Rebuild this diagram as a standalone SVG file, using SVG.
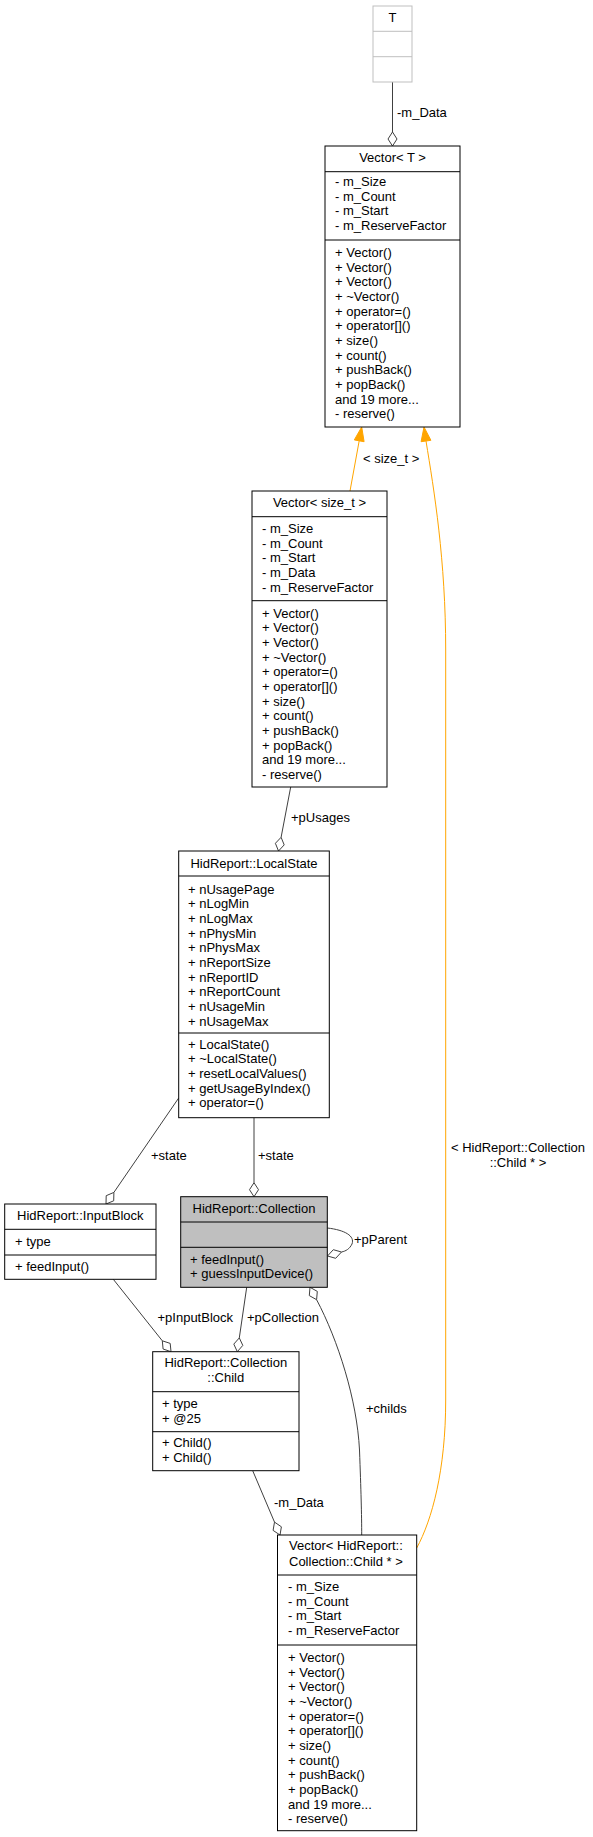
<svg xmlns="http://www.w3.org/2000/svg" width="593" height="1837" viewBox="0 0 593 1837">
<style>
text{font-family:"Liberation Sans",Arial,sans-serif;font-size:13px;fill:#000}
.c{text-anchor:middle}
.box{fill:#fff;stroke:#000;stroke-width:1}
.sel{fill:#bfbfbf;stroke:#000;stroke-width:1}
.ghost{fill:#fff;stroke:#bfbfbf;stroke-width:1}
.sep{stroke:#000;stroke-width:1}
.gsep{stroke:#bfbfbf;stroke-width:1}
.e{fill:none;stroke:#404040;stroke-width:1}
.dia{fill:#fff;stroke:#404040;stroke-width:1}
.o{fill:none;stroke:#ffa500;stroke-width:1}
.oa{fill:#ffa500;stroke:#ffa500;stroke-width:1}
</style>
<rect width="593" height="1837" fill="#fff"/>
<g id="connectors">
  <!-- T -> Vector<T> -->
  <path class="e" d="M392.5,82 L392.5,132"/>
  <polygon class="dia" points="392.5,146 397,139 392.5,132 388,139"/>
  <text x="397" y="117">-m_Data</text>
  <!-- Vector<size_t> -> Vector<T> -->
  <path class="o" d="M350,491 L359.2,440.8"/>
  <polygon class="oa" points="361.7,427 364.1,441.7 354.3,439.9"/>
  <text x="363" y="463">&lt; size_t &gt;</text>
  <!-- big Vector -> Vector<T> -->
  <path class="o" d="M416.7,1548 C432,1520 445.7,1470 445.7,1400 L445.7,650 C445.7,560 434,490 426,441"/>
  <polygon class="oa" points="424,427 430.9,440.3 421.1,441.7"/>
  <text class="c" x="518" y="1152">&lt; HidReport::Collection</text>
  <text class="c" x="518" y="1167">::Child * &gt;</text>
  <!-- Vector<size_t> -> LocalState -->
  <path class="e" d="M290.7,787 L281.1,837.3"/>
  <polygon class="dia" points="278.5,851 284.2,844.9 281.1,837.3 275.4,843.3"/>
  <text x="291" y="822">+pUsages</text>
  <!-- LocalState -> Collection -->
  <path class="e" d="M254,1117.7 L254,1182.7"/>
  <polygon class="dia" points="254,1196.7 258.5,1189.7 254,1182.7 249.5,1189.7"/>
  <text x="258" y="1160">+state</text>
  <!-- LocalState -> InputBlock -->
  <path class="e" d="M178.7,1098 L113.9,1192.4"/>
  <polygon class="dia" points="106,1204 113.7,1200.8 113.9,1192.4 106.2,1195.7"/>
  <text x="151" y="1160">+state</text>
  <!-- Collection self -->
  <path class="e" d="M327.3,1228 C345,1230 355,1236 352,1244 C349.5,1249 346,1251 341.5,1252"/>
  <polygon class="dia" points="327.5,1256 335.7,1258.3 341.5,1252 333.3,1249.7"/>
  <text x="354" y="1244">+pParent</text>
  <!-- Collection -> Child -->
  <path class="e" d="M246.7,1287.3 L239.3,1337.9"/>
  <polygon class="dia" points="237.3,1351.7 242.8,1345.4 239.3,1337.9 233.8,1344.1"/>
  <text x="247" y="1322">+pCollection</text>
  <!-- InputBlock -> Child -->
  <path class="e" d="M113.3,1279.3 L162.3,1340.8"/>
  <polygon class="dia" points="171,1351.7 170.2,1343.4 162.3,1340.8 163.1,1349"/>
  <text x="157.5" y="1322">+pInputBlock</text>
  <!-- Collection -> big Vector (childs) -->
  <path class="e" d="M316.6,1299.7 C338,1340 357,1400 359.5,1450 C361,1490 361.7,1515 361.7,1535"/>
  <polygon class="dia" points="310,1287.3 317.3,1291.4 316.6,1299.7 309.3,1295.6"/>
  <text x="366" y="1413">+childs</text>
  <!-- Child -> big Vector -->
  <path class="e" d="M252.7,1470.7 L274.5,1522.1"/>
  <polygon class="dia" points="280,1535 281.4,1526.8 274.5,1522.1 273.1,1530.4"/>
  <text x="274" y="1507">-m_Data</text>
</g>
<g id="node-T">
  <rect class="ghost" x="373" y="6" width="39" height="76"/>
  <line class="gsep" x1="373" y1="31.3" x2="412" y2="31.3"/>
  <line class="gsep" x1="373" y1="56.7" x2="412" y2="56.7"/>
  <text class="c" x="392.5" y="22">T</text>
</g>
<g id="node-VectorT">
  <rect class="box" x="325" y="146" width="135" height="281"/>
  <line class="sep" x1="325" y1="171.7" x2="460" y2="171.7"/>
  <line class="sep" x1="325" y1="240" x2="460" y2="240"/>
  <text class="c" x="392.5" y="162">Vector&lt; T &gt;</text>
  <text x="335" y="186">- m_Size</text>
  <text x="335" y="200.7">- m_Count</text>
  <text x="335" y="215.3">- m_Start</text>
  <text x="335" y="230">- m_ReserveFactor</text>
  <text x="335" y="257">+ Vector()</text>
  <text x="335" y="271.7">+ Vector()</text>
  <text x="335" y="286.3">+ Vector()</text>
  <text x="335" y="301">+ ~Vector()</text>
  <text x="335" y="315.7">+ operator=()</text>
  <text x="335" y="330.3">+ operator[]()</text>
  <text x="335" y="345">+ size()</text>
  <text x="335" y="359.7">+ count()</text>
  <text x="335" y="374.3">+ pushBack()</text>
  <text x="335" y="389">+ popBack()</text>
  <text x="335" y="403.7">and 19 more...</text>
  <text x="335" y="418.3">- reserve()</text>
</g>
<g id="node-VectorSizeT">
  <rect class="box" x="252" y="491" width="135" height="296"/>
  <line class="sep" x1="252" y1="516.7" x2="387" y2="516.7"/>
  <line class="sep" x1="252" y1="600.7" x2="387" y2="600.7"/>
  <text class="c" x="319.5" y="507">Vector&lt; size_t &gt;</text>
  <text x="262" y="533">- m_Size</text>
  <text x="262" y="547.7">- m_Count</text>
  <text x="262" y="562.3">- m_Start</text>
  <text x="262" y="577">- m_Data</text>
  <text x="262" y="591.7">- m_ReserveFactor</text>
  <text x="262" y="617.7">+ Vector()</text>
  <text x="262" y="632.3">+ Vector()</text>
  <text x="262" y="647">+ Vector()</text>
  <text x="262" y="661.7">+ ~Vector()</text>
  <text x="262" y="676.3">+ operator=()</text>
  <text x="262" y="691">+ operator[]()</text>
  <text x="262" y="705.7">+ size()</text>
  <text x="262" y="720.3">+ count()</text>
  <text x="262" y="735">+ pushBack()</text>
  <text x="262" y="749.7">+ popBack()</text>
  <text x="262" y="764.3">and 19 more...</text>
  <text x="262" y="779">- reserve()</text>
</g>
<g id="node-LocalState">
  <rect class="box" x="178.7" y="851" width="150.6" height="266.7"/>
  <line class="sep" x1="178.7" y1="876" x2="329.3" y2="876"/>
  <line class="sep" x1="178.7" y1="1033" x2="329.3" y2="1033"/>
  <text class="c" x="254" y="868">HidReport::LocalState</text>
  <text x="188" y="893.5">+ nUsagePage</text>
  <text x="188" y="908.2">+ nLogMin</text>
  <text x="188" y="922.8">+ nLogMax</text>
  <text x="188" y="937.5">+ nPhysMin</text>
  <text x="188" y="952.2">+ nPhysMax</text>
  <text x="188" y="966.8">+ nReportSize</text>
  <text x="188" y="981.5">+ nReportID</text>
  <text x="188" y="996.2">+ nReportCount</text>
  <text x="188" y="1010.8">+ nUsageMin</text>
  <text x="188" y="1025.5">+ nUsageMax</text>
  <text x="188" y="1048.5">+ LocalState()</text>
  <text x="188" y="1063.2">+ ~LocalState()</text>
  <text x="188" y="1077.8">+ resetLocalValues()</text>
  <text x="188" y="1092.5">+ getUsageByIndex()</text>
  <text x="188" y="1107.2">+ operator=()</text>
</g>
<g id="node-InputBlock">
  <rect class="box" x="4.7" y="1204" width="151.3" height="75.3"/>
  <line class="sep" x1="4.7" y1="1229.3" x2="156" y2="1229.3"/>
  <line class="sep" x1="4.7" y1="1255" x2="156" y2="1255"/>
  <text class="c" x="80.3" y="1219.5">HidReport::InputBlock</text>
  <text x="15" y="1245.5">+ type</text>
  <text x="15" y="1271">+ feedInput()</text>
</g>
<g id="node-Collection">
  <rect class="sel" x="180.7" y="1196.7" width="146.6" height="90.6"/>
  <line class="sep" x1="180.7" y1="1222" x2="327.3" y2="1222"/>
  <line class="sep" x1="180.7" y1="1247.3" x2="327.3" y2="1247.3"/>
  <text class="c" x="254" y="1213">HidReport::Collection</text>
  <text x="190" y="1263.5">+ feedInput()</text>
  <text x="190" y="1278">+ guessInputDevice()</text>
</g>
<g id="node-Child">
  <rect class="box" x="152.7" y="1351.7" width="146.3" height="119"/>
  <line class="sep" x1="152.7" y1="1391.7" x2="299" y2="1391.7"/>
  <line class="sep" x1="152.7" y1="1431.7" x2="299" y2="1431.7"/>
  <text class="c" x="225.8" y="1367">HidReport::Collection</text>
  <text class="c" x="225.8" y="1382">::Child</text>
  <text x="162" y="1408">+ type</text>
  <text x="162" y="1422.5">+ @25</text>
  <text x="162" y="1447">+ Child()</text>
  <text x="162" y="1461.5">+ Child()</text>
</g>
<g id="node-VectorChild">
  <rect class="box" x="277.5" y="1535" width="139.2" height="295.7"/>
  <line class="sep" x1="277.5" y1="1575" x2="416.7" y2="1575"/>
  <line class="sep" x1="277.5" y1="1645" x2="416.7" y2="1645"/>
  <text x="289" y="1550">Vector&lt; HidReport::</text>
  <text x="289" y="1566">Collection::Child * &gt;</text>
  <text x="288" y="1591">- m_Size</text>
  <text x="288" y="1605.7">- m_Count</text>
  <text x="288" y="1620.3">- m_Start</text>
  <text x="288" y="1635">- m_ReserveFactor</text>
  <text x="288" y="1662">+ Vector()</text>
  <text x="288" y="1676.7">+ Vector()</text>
  <text x="288" y="1691.3">+ Vector()</text>
  <text x="288" y="1706">+ ~Vector()</text>
  <text x="288" y="1720.7">+ operator=()</text>
  <text x="288" y="1735.3">+ operator[]()</text>
  <text x="288" y="1750">+ size()</text>
  <text x="288" y="1764.7">+ count()</text>
  <text x="288" y="1779.3">+ pushBack()</text>
  <text x="288" y="1794">+ popBack()</text>
  <text x="288" y="1808.7">and 19 more...</text>
  <text x="288" y="1823.3">- reserve()</text>
</g>
</svg>
